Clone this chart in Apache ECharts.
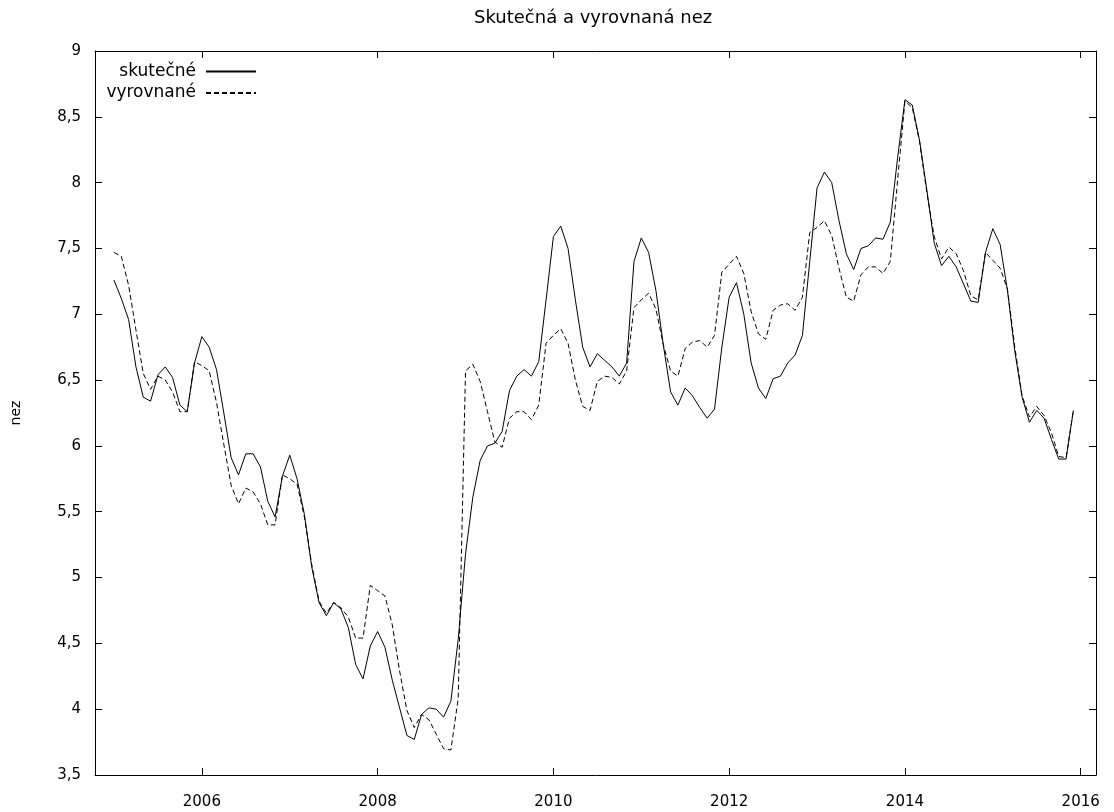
<!DOCTYPE html>
<html>
<head>
<meta charset="utf-8">
<script src="https://cdn.jsdelivr.net/npm/echarts@6/dist/echarts.min.js"></script>
<style>
  html, body { margin: 0; padding: 0; background: #fff; }
  #chart { width: 1114px; height: 812px; }
</style>
</head>
<body>
<div id="chart"></div>
<script>
// Monthly series, January 2005 – December 2015
const startYear = 2005;
const skutecne = [
  7.26, 7.12, 6.96, 6.60, 6.37, 6.34, 6.54, 6.60, 6.52, 6.31, 6.26, 6.63,
  6.83, 6.75, 6.58, 6.25, 5.91, 5.78, 5.94, 5.94, 5.84, 5.58, 5.46, 5.77,
  5.93, 5.75, 5.48, 5.08, 4.81, 4.71, 4.81, 4.76, 4.62, 4.34, 4.23, 4.48,
  4.59, 4.47, 4.22, 4.01, 3.80, 3.77, 3.96, 4.01, 4.00, 3.94, 4.06, 4.53,
  5.18, 5.61, 5.89, 6.00, 6.02, 6.11, 6.42, 6.53, 6.58, 6.53, 6.64, 7.11,
  7.59, 7.67, 7.50, 7.11, 6.75, 6.60, 6.70, 6.65, 6.60, 6.53, 6.63, 7.40,
  7.58, 7.47, 7.18, 6.77, 6.41, 6.31, 6.44, 6.38, 6.29, 6.21, 6.28, 6.75,
  7.13, 7.24, 7.00, 6.63, 6.44, 6.36, 6.51, 6.53, 6.63, 6.69, 6.84, 7.40,
  7.96, 8.08, 8.00, 7.71, 7.46, 7.34, 7.50, 7.52, 7.58, 7.57, 7.70, 8.19,
  8.63, 8.59, 8.32, 7.94, 7.54, 7.37, 7.44, 7.36, 7.23, 7.10, 7.09, 7.47,
  7.65, 7.53, 7.18, 6.72, 6.37, 6.18, 6.27, 6.21, 6.05, 5.90, 5.90, 6.27
];
const vyrovnane = [
  7.47, 7.44, 7.22, 6.88, 6.55, 6.43, 6.53, 6.50, 6.41, 6.26, 6.26, 6.64,
  6.61, 6.57, 6.33, 6.01, 5.70, 5.56, 5.68, 5.65, 5.56, 5.40, 5.40, 5.78,
  5.75, 5.71, 5.46, 5.10, 4.82, 4.73, 4.81, 4.77, 4.70, 4.54, 4.54, 4.94,
  4.90, 4.86, 4.64, 4.29, 3.99, 3.86, 3.96, 3.92, 3.81, 3.70, 3.69, 4.08,
  6.57, 6.62, 6.49, 6.26, 6.03, 5.99, 6.21, 6.26, 6.26, 6.20, 6.31, 6.78,
  6.84, 6.89, 6.78, 6.50, 6.30, 6.27, 6.49, 6.53, 6.52, 6.47, 6.57, 7.05,
  7.11, 7.16, 7.04, 6.77, 6.57, 6.53, 6.74, 6.79, 6.80, 6.75, 6.84, 7.32,
  7.38, 7.44, 7.31, 7.02, 6.85, 6.81, 7.03, 7.07, 7.08, 7.03, 7.13, 7.62,
  7.66, 7.71, 7.60, 7.35, 7.13, 7.10, 7.30, 7.36, 7.36, 7.31, 7.40, 8.02,
  8.62, 8.57, 8.31, 7.92, 7.59, 7.42, 7.51, 7.46, 7.33, 7.14, 7.11, 7.47,
  7.41, 7.35, 7.19, 6.75, 6.38, 6.22, 6.30, 6.23, 6.10, 5.92, 5.91, 6.27
];
const yearTicks = [2006, 2008, 2010, 2012, 2014, 2016];
const seriesNames = ['skutečné', 'vyrovnané'];
const titleText = 'Skutečná a vyrovnaná nez';
const yName = 'nez';

const toPoints = arr => arr.map((v, i) => [startYear + i / 12, v]);

const FONT = 'DejaVu Sans';
const xMin = 2004.784, xMax = 2016.174;

const axisLineStyle = { show: true, lineStyle: { color: '#000', width: 1 } };

const chart = echarts.init(document.getElementById('chart'), null, { renderer: 'canvas' });
chart.setOption({
  animation: false,
  backgroundColor: '#fff',
  title: {
    text: titleText,
    left: 469,
    top: 4,
    textStyle: { fontFamily: FONT, fontSize: 18, fontWeight: 'normal', color: '#000' }
  },
  legend: [0, 1].map(k => ({
    data: [seriesNames[k]],
    orient: 'vertical',
    align: 'right',
    right: 857,
    top: 63 + k * 21.5,
    itemWidth: 50,
    itemHeight: 10,
    padding: 0,
    selectedMode: false,
    itemStyle: { opacity: 0 },
    textStyle: { fontFamily: FONT, fontSize: 17, color: '#000', padding: [0, 5, 0, 0] }
  })),
  grid: { left: 95, right: 18, top: 51, bottom: 37, containLabel: false },
  xAxis: [
    {
      type: 'value', min: xMin, max: xMax, position: 'bottom',
      axisLine: axisLineStyle,
      axisTick: { show: true, inside: true, length: 7, customValues: yearTicks, lineStyle: { color: '#000' } },
      axisLabel: { customValues: yearTicks, margin: 20, fontFamily: FONT, fontSize: 15, color: '#000',
                   formatter: v => String(Math.round(v)) },
      splitLine: { show: false }
    },
    {
      type: 'value', min: xMin, max: xMax, position: 'top',
      axisLine: axisLineStyle,
      axisTick: { show: true, inside: true, length: 7, customValues: yearTicks, lineStyle: { color: '#000' } },
      axisLabel: { show: false },
      splitLine: { show: false }
    }
  ],
  yAxis: [
    {
      type: 'value', min: 3.5, max: 9, interval: 0.5, position: 'left',
      name: yName, nameLocation: 'middle', nameGap: 72, nameRotate: 90,
      nameTextStyle: { fontFamily: FONT, fontSize: 14, color: '#000' },
      axisLine: axisLineStyle,
      axisTick: { show: true, inside: true, length: 7, lineStyle: { color: '#000' } },
      axisLabel: { margin: 14, fontFamily: FONT, fontSize: 15, color: '#000',
                   formatter: v => String(+v.toFixed(1)).replace('.', ',') },
      splitLine: { show: false }
    },
    {
      type: 'value', min: 3.5, max: 9, interval: 0.5, position: 'right',
      axisLine: axisLineStyle,
      axisTick: { show: true, inside: true, length: 7, lineStyle: { color: '#000' } },
      axisLabel: { show: false },
      splitLine: { show: false }
    }
  ],
  series: [
    {
      name: seriesNames[0], type: 'line', data: toPoints(skutecne),
      symbol: 'none', xAxisIndex: 0, yAxisIndex: 0,
      lineStyle: { color: '#000', width: 1, type: 'solid' },
      itemStyle: { color: '#000' }
    },
    {
      name: seriesNames[1], type: 'line', data: toPoints(vyrovnane),
      symbol: 'none', xAxisIndex: 0, yAxisIndex: 0,
      lineStyle: { color: '#000', width: 1, type: [5, 3] },
      itemStyle: { color: '#000' }
    }
  ]
});
</script>
</body>
</html>
